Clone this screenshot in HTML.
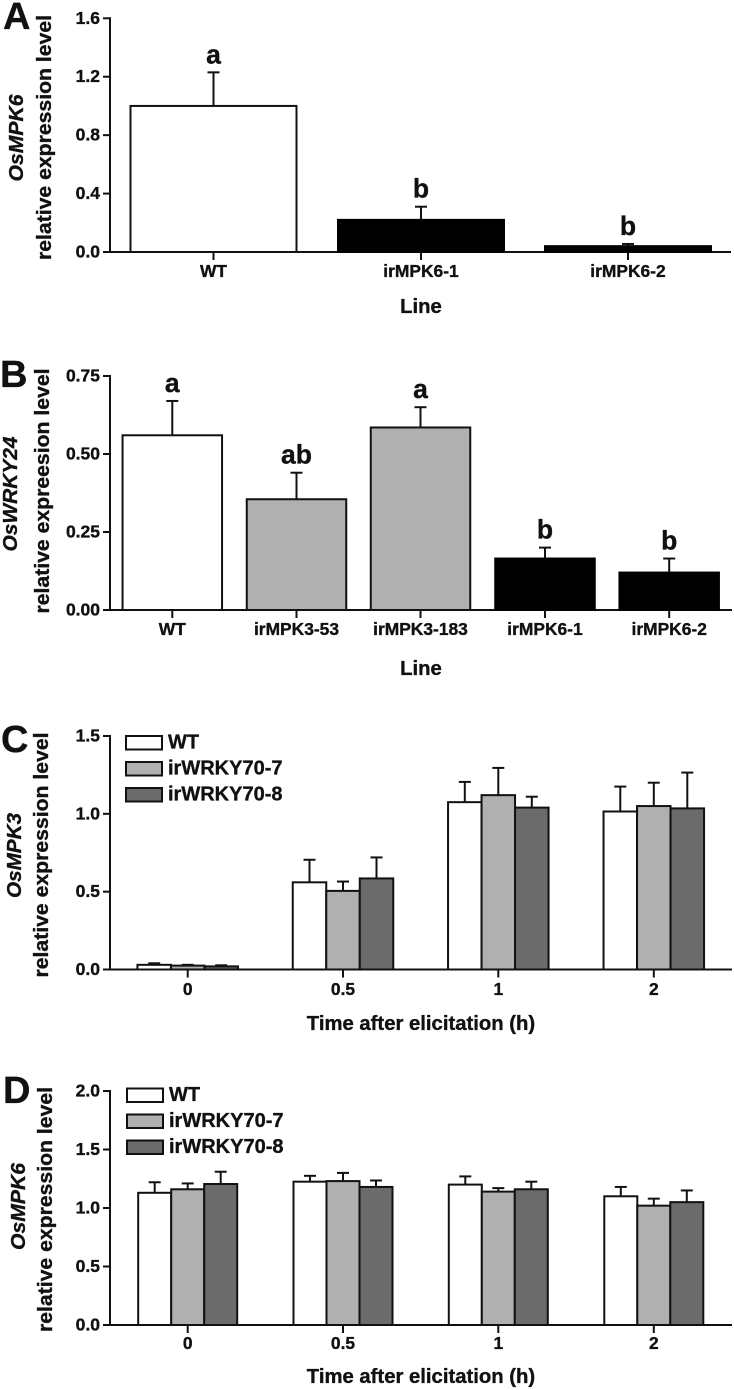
<!DOCTYPE html>
<html lang="en">
<head>
<meta charset="utf-8">
<title>Relative expression level charts</title>
<style>
html,body{margin:0;padding:0;background:#fff;}
svg{display:block;font-family:"Liberation Sans",Arial,sans-serif;font-weight:bold;fill:#111;}
svg text{stroke:#111;stroke-width:0.35px;}
</style>
</head>
<body>
<svg id="figure" xmlns="http://www.w3.org/2000/svg" width="734" height="1390" viewBox="0 0 734 1390"></svg>
<script>
// Panel A data
const aCategories = ['WT', 'irMPK6-1', 'irMPK6-2'];
const aValues = [1.0, 0.22, 0.04];
const aErrorTops = [1.23, 0.31, 0.055];
const aLetters = ['a', 'b', 'b'];
const aTicks = ['0.0', '0.4', '0.8', '1.2', '1.6'];
// Panel B data
const bCategories = ['WT', 'irMPK3-53', 'irMPK3-183', 'irMPK6-1', 'irMPK6-2'];
const bValues = [0.56, 0.355, 0.585, 0.165, 0.12];
const bErrorTops = [0.67, 0.44, 0.65, 0.2, 0.165];
const bLetters = ['a', 'ab', 'a', 'b', 'b'];
const bTicks = ['0.00', '0.25', '0.50', '0.75'];
// Panel C data
const timeCategories = ['0', '0.5', '1', '2'];
const seriesNames = ['WT', 'irWRKY70-7', 'irWRKY70-8'];
const cWT = [0.03, 0.56, 1.075, 1.015];
const cWTTops = [0.04, 0.705, 1.205, 1.175];
const cLine7 = [0.025, 0.505, 1.12, 1.05];
const cLine7Tops = [0.03, 0.565, 1.295, 1.2];
const cLine8 = [0.02, 0.585, 1.04, 1.035];
const cLine8Tops = [0.027, 0.72, 1.11, 1.265];
const cTicks = ['0.0', '0.5', '1.0', '1.5'];
// Panel D data
const dWT = [1.13, 1.225, 1.2, 1.1];
const dWTTops = [1.22, 1.275, 1.27, 1.18];
const dLine7 = [1.16, 1.23, 1.14, 1.02];
const dLine7Tops = [1.21, 1.3, 1.17, 1.08];
const dLine8 = [1.205, 1.18, 1.16, 1.05];
const dLine8Tops = [1.31, 1.235, 1.225, 1.15];
const dTicks = ['0.0', '0.5', '1.0', '1.5', '2.0'];

const NS = 'http://www.w3.org/2000/svg';
const svg = document.getElementById('figure');
const INK = '#111';
const FILL_WHITE = '#fff', FILL_GREY = '#b0b0b0', FILL_DARK = '#6b6b6b', FILL_BLACK = '#000';

function mk(tag, attrs, parent) {
  const el = document.createElementNS(NS, tag);
  for (const k in attrs) el.setAttribute(k, attrs[k]);
  parent.appendChild(el);
  return el;
}
function line(parent, x1, y1, x2, y2) {
  return mk('line', {x1, y1, x2, y2, stroke: INK, 'stroke-width': 2, 'stroke-linecap': 'butt'}, parent);
}
function text(parent, str, x, y, size, anchor, extra) {
  const el = mk('text', Object.assign({x, y, 'font-size': size, 'text-anchor': anchor || 'middle'}, extra || {}), parent);
  el.textContent = str;
  return el;
}
function vText(parent, str, x, cy, size, len, italic) {
  const el = mk('text', {
    transform: 'translate(' + x + ',' + cy + ') rotate(-90)',
    'font-size': size, 'text-anchor': 'middle',
    textLength: len, lengthAdjust: 'spacingAndGlyphs',
    'font-style': italic ? 'italic' : 'normal'
  }, parent);
  el.textContent = str;
  return el;
}

// Draws the frame of a panel and returns the value-to-pixel axis function.
function drawAxes(g, p) {
  const maxV = parseFloat(p.ticks[p.ticks.length - 1]);
  const yScale = v => p.y0 - (v / maxV) * (p.y0 - p.yTop);
  const yAxis = line(g, p.axisX, p.yTop - 1, p.axisX, p.y0 + 1);
  
  
  const xAxis = line(g, p.axisX - 7, p.y0, p.xEnd, p.y0);
  
  
  p.ticks.forEach(t => {
    const y = yScale(parseFloat(t));
    const tick = line(g, p.axisX - 7, y, p.axisX, y);
    
    
    const label = text(g, t, 100, y + 5.5, 17.5, 'end');
    
    
  });
  const gene = vText(g, p.gene, p.geneX, p.geneCy, 20.5, p.geneLen, true);
  
  
  const rel = vText(g, p.yTitle, p.relX, p.relCy, 20, 245, false);
  
  
  const xt = text(g, p.xTitle, 421, p.xTitleY, 20.3);
  
  
  const letter = text(g, p.letter, p.letterX, p.letterY, 38, 'start');
  
  
  return yScale;
}
function xTick(g, cx, label, p) {
  const tick = line(g, cx, p.y0, cx, p.y0 + 8);
  
  
  const t = text(g, label, cx, p.catY, 17.4);
  
  
}
function drawBar(g, cx, w, val, top, fill, yScale, y0) {
  const err = line(g, cx, yScale(top), cx, yScale(val));
  
  
  const cap = line(g, cx - 6, yScale(top), cx + 6, yScale(top));
  
  
  const bar = mk('rect', {x: cx - w / 2, y: yScale(val), width: w, height: y0 - yScale(val), fill, stroke: fill === FILL_BLACK ? '#000' : INK, 'stroke-width': 2}, g);
  
  
}
function drawSimple(p, cats, vals, tops, letters, centers, w, fills, letterYOffset) {
  const g = mk('g', {}, svg);
  
  
  const yScale = drawAxes(g, p);
  cats.forEach((c, i) => {
    drawBar(g, centers[i], w, vals[i], tops[i], fills[i], yScale, p.y0);
    xTick(g, centers[i], c, p);
    const sig = text(g, letters[i], centers[i], yScale(tops[i]) - letterYOffset, 26.5);
    
    
  });
}
function drawGrouped(p, cats, series, tops, centers, w, legend) {
  const g = mk('g', {}, svg);
  
  
  const yScale = drawAxes(g, p);
  const fills = [FILL_WHITE, FILL_GREY, FILL_DARK];
  cats.forEach((c, i) => {
    series.forEach((s, j) => {
      drawBar(g, centers[i] + (j - 1) * w, w, s[i], tops[j][i], fills[j], yScale, p.y0);
    });
    xTick(g, centers[i], c, p);
  });
  seriesNames.forEach((n, j) => {
    const box = mk('rect', {x: legend.x, y: legend.y + j * legend.step, width: 36, height: 13.5, fill: fills[j], stroke: INK, 'stroke-width': 2}, g);
    
    
    const t = text(g, n, legend.x + 42, legend.y + 12.5 + j * legend.step, 20, 'start');
    
    
  });
}

const YT = 'relative expression level';
drawSimple({
  name: 'panel-a', ticks: aTicks, axisX: 110, y0: 252, yTop: 18.3, xEnd: 731, catY: 277,
  gene: 'OsMPK6', geneX: 23, geneCy: 138, geneLen: 87, yTitle: YT, relX: 51, relCy: 137.5,
  xTitle: 'Line', xTitleY: 313, letter: 'A', letterX: 3, letterY: 29
}, aCategories, aValues, aErrorTops, aLetters, [213.5, 421, 628], 166,
  [FILL_WHITE, FILL_BLACK, FILL_BLACK], 9);

drawSimple({
  name: 'panel-b', ticks: bTicks, axisX: 110, y0: 610, yTop: 376, xEnd: 732, catY: 635,
  gene: 'OsWRKY24', geneX: 17, geneCy: 494, geneLen: 115, yTitle: 'relative expreesion level', relX: 49, relCy: 491,
  xTitle: 'Line', xTitleY: 675, letter: 'B', letterX: 0, letterY: 387
}, bCategories, bValues, bErrorTops, bLetters, [172.3, 296.5, 420.5, 545, 669.2], 99.5,
  [FILL_WHITE, FILL_GREY, FILL_GREY, FILL_BLACK, FILL_BLACK], 9);

drawGrouped({
  name: 'panel-c', ticks: cTicks, axisX: 110, y0: 969.5, yTop: 736, xEnd: 732, catY: 995,
  gene: 'OsMPK3', geneX: 21, geneCy: 855.5, geneLen: 85, yTitle: YT, relX: 48, relCy: 855,
  xTitle: 'Time after elicitation (h)', xTitleY: 1030, letter: 'C', letterX: 1, letterY: 752
}, timeCategories, [cWT, cLine7, cLine8], [cWTTops, cLine7Tops, cLine8Tops],
  [187.7, 343, 498.3, 653.8], 33.5, {x: 126, y: 736, step: 26});

drawGrouped({
  name: 'panel-d', ticks: dTicks, axisX: 110, y0: 1325, yTop: 1091, xEnd: 732, catY: 1349,
  gene: 'OsMPK6', geneX: 25, geneCy: 1206.5, geneLen: 87, yTitle: YT, relX: 52, relCy: 1209.5,
  xTitle: 'Time after elicitation (h)', xTitleY: 1383, letter: 'D', letterX: 3, letterY: 1103
}, timeCategories, [dWT, dLine7, dLine8], [dWTTops, dLine7Tops, dLine8Tops],
  [187.7, 343, 498.3, 653.8], 33, {x: 127, y: 1088.5, step: 26});
</script>
</body>
</html>
